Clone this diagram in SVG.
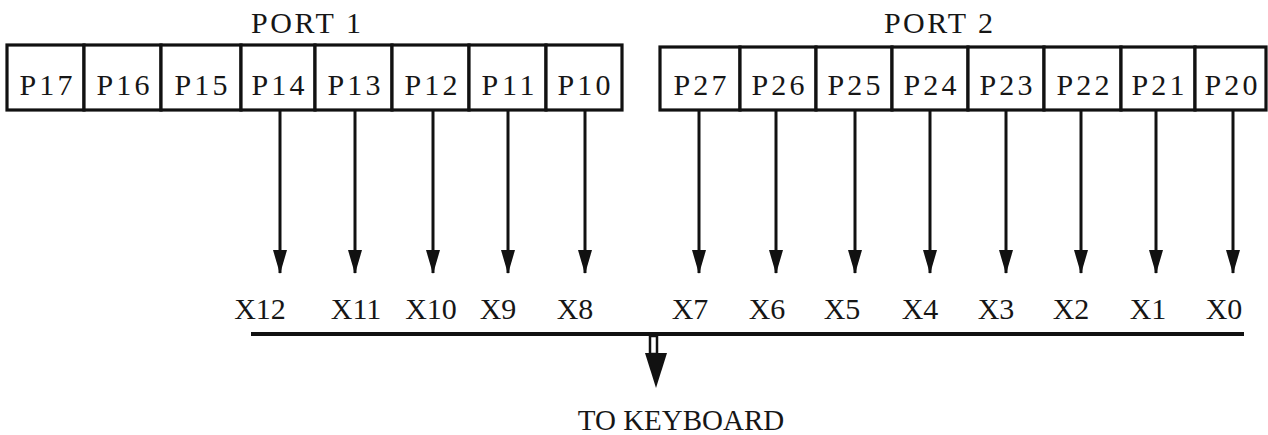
<svg xmlns="http://www.w3.org/2000/svg" width="1268" height="435" viewBox="0 0 1268 435">
<style>
.cell{fill:#fff;stroke:#111;stroke-width:3.2}
.t{font-family:"Liberation Serif","Times New Roman",serif;font-size:30px;fill:#161616}
.c{text-anchor:middle}
.w{stroke:#111;stroke-width:3;fill:none}
.bus{stroke:#111;stroke-width:4}
</style>
<defs>
<marker id="ah" markerUnits="userSpaceOnUse" markerWidth="24" markerHeight="14" refX="23" refY="7" orient="auto" viewBox="0 0 24 14">
<path d="M0,0 L24,7 L0,14 Z" fill="#111"/>
</marker>
</defs>
<rect width="1268" height="435" fill="#fff"/>

<g id="port1">
<text class="t" x="251" y="33" textLength="110" lengthAdjust="spacing">PORT 1</text>
<g id="P17"><rect class="cell" x="7" y="45" width="77" height="65"/><text class="t c" x="46" y="95" textLength="53" lengthAdjust="spacing">P17</text></g>
<g id="P16"><rect class="cell" x="84" y="45" width="77" height="65"/><text class="t c" x="123" y="95" textLength="53" lengthAdjust="spacing">P16</text></g>
<g id="P15"><rect class="cell" x="161" y="45" width="80" height="65"/><text class="t c" x="201" y="95" textLength="53" lengthAdjust="spacing">P15</text></g>
<g id="P14"><rect class="cell" x="241" y="45" width="74" height="65"/><text class="t c" x="278" y="95" textLength="53" lengthAdjust="spacing">P14</text></g>
<g id="P13"><rect class="cell" x="315" y="45" width="77" height="65"/><text class="t c" x="354" y="95" textLength="53" lengthAdjust="spacing">P13</text></g>
<g id="P12"><rect class="cell" x="392" y="45" width="77" height="65"/><text class="t c" x="431" y="95" textLength="53" lengthAdjust="spacing">P12</text></g>
<g id="P11"><rect class="cell" x="469" y="45" width="77" height="65"/><text class="t c" x="508" y="95" textLength="53" lengthAdjust="spacing">P11</text></g>
<g id="P10"><rect class="cell" x="546" y="45" width="76" height="65"/><text class="t c" x="584" y="95" textLength="53" lengthAdjust="spacing">P10</text></g>
</g>

<g id="port2">
<text class="t" x="884" y="33" textLength="109" lengthAdjust="spacing">PORT 2</text>
<g id="P27"><rect class="cell" x="660" y="47" width="80" height="63"/><text class="t c" x="700" y="95" textLength="53" lengthAdjust="spacing">P27</text></g>
<g id="P26"><rect class="cell" x="740" y="47" width="76" height="63"/><text class="t c" x="778" y="95" textLength="53" lengthAdjust="spacing">P26</text></g>
<g id="P25"><rect class="cell" x="816" y="47" width="76" height="63"/><text class="t c" x="854" y="95" textLength="53" lengthAdjust="spacing">P25</text></g>
<g id="P24"><rect class="cell" x="892" y="47" width="76" height="63"/><text class="t c" x="930" y="95" textLength="53" lengthAdjust="spacing">P24</text></g>
<g id="P23"><rect class="cell" x="968" y="47" width="76" height="63"/><text class="t c" x="1006" y="95" textLength="53" lengthAdjust="spacing">P23</text></g>
<g id="P22"><rect class="cell" x="1044" y="47" width="77" height="63"/><text class="t c" x="1083" y="95" textLength="53" lengthAdjust="spacing">P22</text></g>
<g id="P21"><rect class="cell" x="1121" y="47" width="74" height="63"/><text class="t c" x="1158" y="95" textLength="53" lengthAdjust="spacing">P21</text></g>
<g id="P20"><rect class="cell" x="1195" y="47" width="71" height="63"/><text class="t c" x="1231" y="95" textLength="53" lengthAdjust="spacing">P20</text></g>
</g>

<g id="connectors">
<line class="w" x1="280" y1="110" x2="280" y2="273" marker-end="url(#ah)"/>
<line class="w" x1="355" y1="110" x2="355" y2="273" marker-end="url(#ah)"/>
<line class="w" x1="433" y1="110" x2="433" y2="273" marker-end="url(#ah)"/>
<line class="w" x1="508" y1="110" x2="508" y2="273" marker-end="url(#ah)"/>
<line class="w" x1="585" y1="110" x2="585" y2="273" marker-end="url(#ah)"/>
<line class="w" x1="699" y1="110" x2="699" y2="273" marker-end="url(#ah)"/>
<line class="w" x1="776" y1="110" x2="776" y2="273" marker-end="url(#ah)"/>
<line class="w" x1="855" y1="110" x2="855" y2="273" marker-end="url(#ah)"/>
<line class="w" x1="930" y1="110" x2="930" y2="273" marker-end="url(#ah)"/>
<line class="w" x1="1006" y1="110" x2="1006" y2="273" marker-end="url(#ah)"/>
<line class="w" x1="1081" y1="110" x2="1081" y2="273" marker-end="url(#ah)"/>
<line class="w" x1="1156" y1="110" x2="1156" y2="273" marker-end="url(#ah)"/>
<line class="w" x1="1233" y1="110" x2="1233" y2="273" marker-end="url(#ah)"/>
<line class="bus" x1="251" y1="334" x2="1244" y2="334"/>
<rect x="650" y="336" width="7" height="18" fill="#fff" stroke="#111" stroke-width="2.5"/>
<path d="M645,353 L667,353 L656,388 Z" fill="#111"/>
</g>

<g id="xlabels">
<text class="t c" x="260" y="319">X12</text>
<text class="t c" x="356" y="319">X11</text>
<text class="t c" x="431" y="319">X10</text>
<text class="t c" x="498" y="319">X9</text>
<text class="t c" x="575" y="319">X8</text>
<text class="t c" x="690" y="319">X7</text>
<text class="t c" x="767" y="319">X6</text>
<text class="t c" x="842" y="319">X5</text>
<text class="t c" x="920" y="319">X4</text>
<text class="t c" x="996" y="319">X3</text>
<text class="t c" x="1071" y="319">X2</text>
<text class="t c" x="1148" y="319">X1</text>
<text class="t c" x="1224" y="319">X0</text>
</g>

<g id="keyboard">
<text class="t c" x="681" y="430" style="font-size:29px">TO KEYBOARD</text>
</g>
</svg>
